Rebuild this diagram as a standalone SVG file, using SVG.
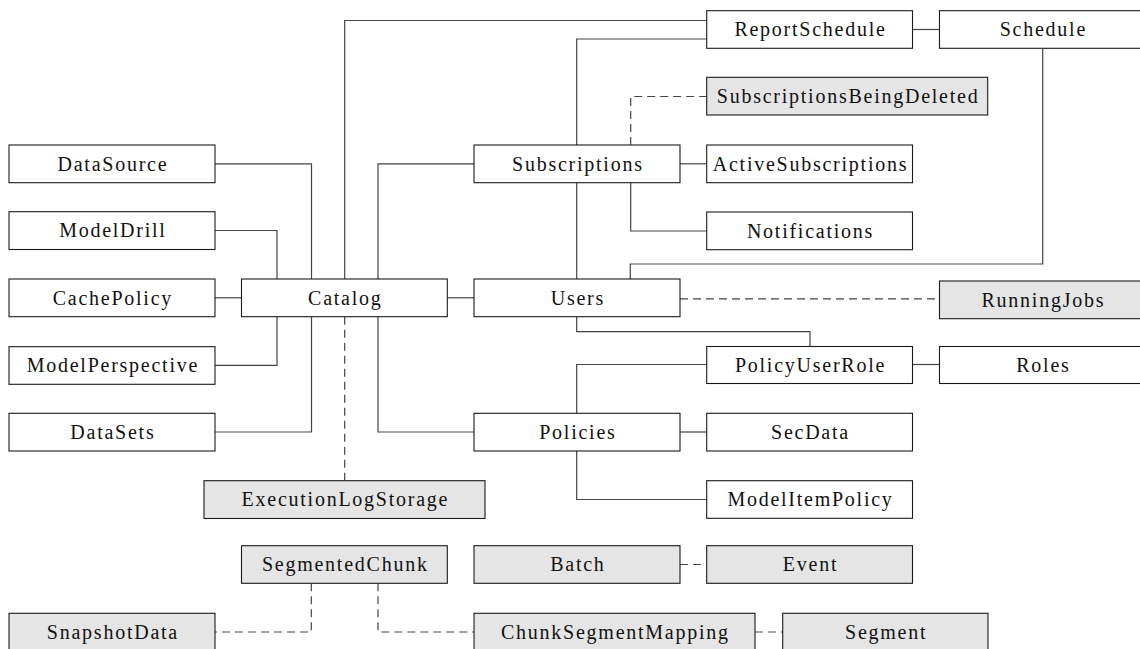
<svg xmlns="http://www.w3.org/2000/svg" width="1140" height="649" viewBox="0 0 1140 649">
  <style>
    .box { fill: #ffffff; stroke: #1a1a1a; stroke-width: 1.1; }
    .aux { fill: #e5e5e5; stroke: #1a1a1a; stroke-width: 1.1; }
    .lbl { font-family: "Liberation Serif", "Times New Roman", serif; font-size: 20px; letter-spacing: 1.75px; fill: #111111; text-anchor: middle; }
    .link { fill: none; stroke: #444444; stroke-width: 1.2; }
    .weak { fill: none; stroke: #444444; stroke-width: 1.2; stroke-dasharray: 8 5; }
  </style>
  <rect width="1140" height="649" fill="#ffffff"/>

  <!-- relationships -->
  <g id="connectors">
    <path class="link" d="M215,163.8 H311.5 V279"/>
    <path class="link" d="M215,230.5 H277 V279"/>
    <path class="link" d="M215,297.8 H241.5"/>
    <path class="link" d="M215,365.3 H277 V316.7"/>
    <path class="link" d="M215,432 H311.5 V316.7"/>
    <path class="link" d="M344.7,279 V20.5 H706.7"/>
    <path class="link" d="M378,279 V163.8 H474"/>
    <path class="link" d="M447.3,297.8 H474"/>
    <path class="link" d="M378,316.7 V432 H474"/>
    <path class="link" d="M576.7,145 V39 H706.7"/>
    <path class="link" d="M680,163.8 H706.7"/>
    <path class="link" d="M630.7,182.7 V231 H706.7"/>
    <path class="link" d="M576.7,182.7 V279"/>
    <path class="link" d="M912.5,29.5 H939.5"/>
    <path class="link" d="M630.3,279 V264 H1042.7 V48.3"/>
    <path class="link" d="M576.7,316.7 V331.7 H810 V346.5"/>
    <path class="link" d="M912.5,364.5 H939.5"/>
    <path class="link" d="M706.7,364.5 H576.7 V413.3"/>
    <path class="link" d="M680,432 H706.7"/>
    <path class="link" d="M576.7,451 V499.5 H706.7"/>

    <path class="weak" d="M630.7,145 V96.5 H706.7"/>
    <path class="weak" d="M680,298.8 H939.5"/>
    <path class="weak" d="M344.7,316.7 V480.7"/>
    <path class="weak" d="M680,564.5 H706.7"/>
    <path class="weak" d="M311.3,583.3 V632 H215"/>
    <path class="weak" d="M378,583.3 V632 H474"/>
    <path class="weak" d="M755,632 H782.7"/>
  </g>

  <!-- tables -->
  <g id="ReportSchedule"><rect class="box" x="706.7" y="10.7" width="205.8" height="37.6"/><text class="lbl" x="810.5" y="36.3">ReportSchedule</text></g>
  <g id="Schedule"><rect class="box" x="939.5" y="10.7" width="206" height="37.6"/><text class="lbl" x="1043.4" y="36.3">Schedule</text></g>
  <g id="SubscriptionsBeingDeleted"><rect class="aux" x="706.7" y="77.3" width="281" height="37.7"/><text class="lbl" x="848.1" y="103">SubscriptionsBeingDeleted</text></g>
  <g id="DataSource"><rect class="box" x="9" y="145" width="206" height="37.7"/><text class="lbl" x="112.9" y="170.6">DataSource</text></g>
  <g id="Subscriptions"><rect class="box" x="474" y="145" width="206" height="37.7"/><text class="lbl" x="577.9" y="170.6">Subscriptions</text></g>
  <g id="ActiveSubscriptions"><rect class="box" x="706.7" y="145" width="205.8" height="37.7"/><text class="lbl" x="810.5" y="170.6">ActiveSubscriptions</text></g>
  <g id="ModelDrill"><rect class="box" x="9" y="211.7" width="206" height="37.8"/><text class="lbl" x="112.9" y="237.4">ModelDrill</text></g>
  <g id="Notifications"><rect class="box" x="706.7" y="212" width="205.8" height="37.7"/><text class="lbl" x="810.5" y="237.6">Notifications</text></g>
  <g id="CachePolicy"><rect class="box" x="9" y="279" width="206" height="37.7"/><text class="lbl" x="112.9" y="304.6">CachePolicy</text></g>
  <g id="Catalog"><rect class="box" x="241.5" y="279" width="205.8" height="37.7"/><text class="lbl" x="345.3" y="304.6">Catalog</text></g>
  <g id="Users"><rect class="box" x="474" y="279" width="206" height="37.7"/><text class="lbl" x="577.9" y="304.6">Users</text></g>
  <g id="RunningJobs"><rect class="aux" x="939.5" y="281" width="206" height="37.7"/><text class="lbl" x="1043.4" y="306.6">RunningJobs</text></g>
  <g id="ModelPerspective"><rect class="box" x="9" y="346.7" width="206" height="37.6"/><text class="lbl" x="112.9" y="372.2">ModelPerspective</text></g>
  <g id="PolicyUserRole"><rect class="box" x="706.7" y="346.5" width="205.8" height="37"/><text class="lbl" x="810.5" y="371.8">PolicyUserRole</text></g>
  <g id="Roles"><rect class="box" x="939.5" y="346.5" width="206" height="37"/><text class="lbl" x="1043.4" y="371.8">Roles</text></g>
  <g id="DataSets"><rect class="box" x="9" y="413.3" width="206" height="37.7"/><text class="lbl" x="112.9" y="438.9">DataSets</text></g>
  <g id="Policies"><rect class="box" x="474" y="413.3" width="206" height="37.7"/><text class="lbl" x="577.9" y="438.9">Policies</text></g>
  <g id="SecData"><rect class="box" x="706.7" y="413.3" width="205.8" height="37.7"/><text class="lbl" x="810.5" y="438.9">SecData</text></g>
  <g id="ExecutionLogStorage"><rect class="aux" x="204" y="480.7" width="281" height="37.8"/><text class="lbl" x="345.4" y="506.4">ExecutionLogStorage</text></g>
  <g id="ModelItemPolicy"><rect class="box" x="706.7" y="480.7" width="205.8" height="37.6"/><text class="lbl" x="810.5" y="506.3">ModelItemPolicy</text></g>
  <g id="SegmentedChunk"><rect class="aux" x="241.5" y="545.7" width="205.8" height="37.6"/><text class="lbl" x="345.3" y="571.3">SegmentedChunk</text></g>
  <g id="Batch"><rect class="aux" x="474" y="545.7" width="206" height="37.6"/><text class="lbl" x="577.9" y="571.3">Batch</text></g>
  <g id="Event"><rect class="aux" x="706.7" y="545.7" width="205.8" height="37.6"/><text class="lbl" x="810.5" y="571.3">Event</text></g>
  <g id="SnapshotData"><rect class="aux" x="9" y="613.3" width="206" height="40"/><text class="lbl" x="112.9" y="639">SnapshotData</text></g>
  <g id="ChunkSegmentMapping"><rect class="aux" x="474" y="613.3" width="281" height="40"/><text class="lbl" x="615.4" y="639">ChunkSegmentMapping</text></g>
  <g id="Segment"><rect class="aux" x="782.7" y="613.3" width="205.3" height="40"/><text class="lbl" x="886.2" y="639">Segment</text></g>
</svg>
